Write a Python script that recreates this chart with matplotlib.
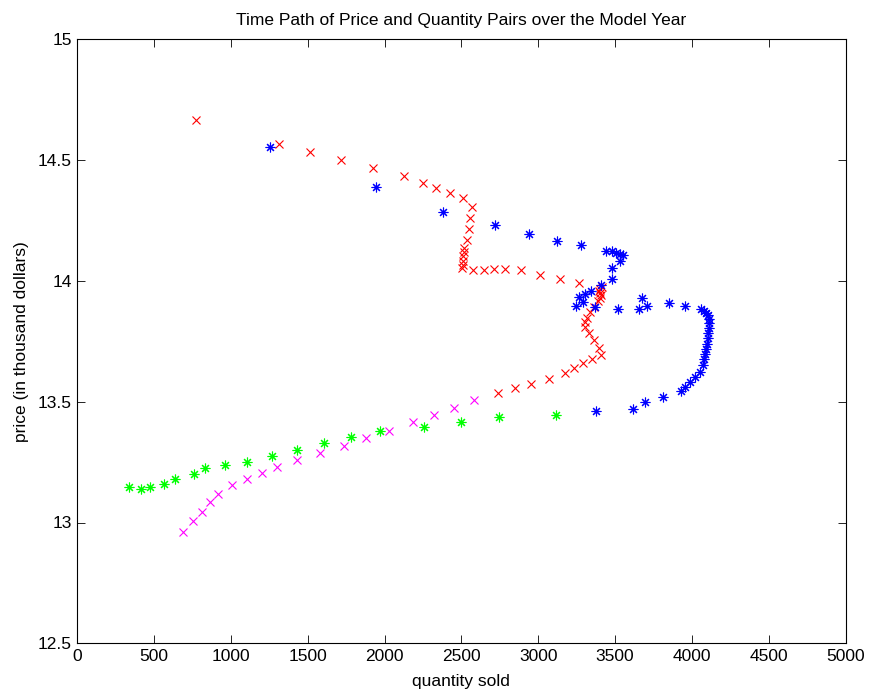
import matplotlib
matplotlib.use("Agg")
import matplotlib.pyplot as plt

plt.rcParams['font.family'] = ['Liberation Sans', 'DejaVu Sans']

# Red 'x' series
red_q = [771, 1311, 1515, 1719, 1925, 2127, 2253, 2337, 2426, 2513, 2570, 2559, 2548, 2537,
         2518, 2516, 2513, 2511, 2509, 2505, 2576, 2646, 2715, 2785, 2889, 3014, 3143, 3268,
         3415, 3405, 3395, 3400, 3410, 3405, 3390, 3364, 3338, 3316, 3303, 3305, 3333, 3364,
         3398, 3408, 3351, 3290, 3234, 3177, 3069, 2956, 2848, 2737]
red_p = [14.665, 14.565, 14.532, 14.499, 14.466, 14.434, 14.405, 14.385, 14.365, 14.345, 14.304,
         14.26, 14.214, 14.17, 14.136, 14.118, 14.101, 14.083, 14.067, 14.052, 14.045, 14.046,
         14.048, 14.049, 14.045, 14.025, 14.007, 13.99, 13.975, 13.965, 13.958, 13.948, 13.94,
         13.93, 13.915, 13.89, 13.87, 13.848, 13.828, 13.81, 13.783, 13.754, 13.724, 13.695,
         13.675, 13.659, 13.638, 13.62, 13.595, 13.574, 13.555, 13.535]

# Magenta 'x' series
mag_q = [2585, 2452, 2320, 2186, 2031, 1882, 1734, 1580, 1432, 1302, 1202, 1103, 1005, 916,
         862, 810, 755, 690]
mag_p = [13.506, 13.475, 13.444, 13.414, 13.378, 13.348, 13.318, 13.288, 13.259, 13.228,
         13.205, 13.181, 13.156, 13.12, 13.083, 13.044, 13.007, 12.961]

# Green '*' series
grn_q = [339, 415, 471, 566, 636, 758, 833, 962, 1105, 1268, 1430, 1606, 1784, 1971, 2259,
         2496, 2745, 3117]
grn_p = [13.149, 13.14, 13.149, 13.158, 13.18, 13.2, 13.224, 13.238, 13.252, 13.274, 13.30,
         13.329, 13.354, 13.38, 13.394, 13.414, 13.436, 13.443]

# Blue '*' series
blu_q = [1253, 1947, 2381, 2719, 2943, 3125, 3277, 3442, 3479, 3507, 3533, 3555, 3533, 3477,
         3477, 3408, 3346, 3305, 3264, 3247, 3294, 3370, 3518, 3657, 3676, 3711, 3848, 3958,
         4059, 4076, 4089, 4102, 4111, 4111, 4111, 4106, 4102, 4098, 4091, 4087, 4080, 4072,
         4054, 4022, 3989, 3956, 3930, 3811, 3698, 3616, 3379]
blu_p = [14.553, 14.388, 14.286, 14.233, 14.194, 14.167, 14.149, 14.125, 14.122, 14.117,
         14.113, 14.107, 14.083, 14.052, 14.007, 13.981, 13.959, 13.944, 13.932, 13.895,
         13.911, 13.89, 13.884, 13.883, 13.929, 13.898, 13.909, 13.898, 13.883, 13.875,
         13.866, 13.857, 13.841, 13.824, 13.805, 13.783, 13.762, 13.74, 13.718, 13.697,
         13.675, 13.652, 13.625, 13.603, 13.581, 13.56, 13.544, 13.519, 13.498, 13.47, 13.463]

title = "Time Path of Price and Quantity Pairs over the Model Year"
xlabel = "quantity sold"
ylabel = "price (in thousand dollars)"
xticks = [0, 500, 1000, 1500, 2000, 2500, 3000, 3500, 4000, 4500, 5000]
yticks = [12.5, 13, 13.5, 14, 14.5, 15]

fig = plt.figure(figsize=(8.7, 6.91), dpi=100)
ax = fig.add_axes([77.3 / 870, 1 - 643.3 / 691, (845.5 - 77.3) / 870, (643.3 - 39.3) / 691])

star = (8, 2, 0)
ax.plot(red_q, red_p, linestyle='none', marker='x', color=(1, 0, 0), markersize=6, markeredgewidth=0.8)
ax.plot(blu_q, blu_p, linestyle='none', marker=star, color=(0, 0, 1), markersize=7, markeredgewidth=0.8)
ax.plot(grn_q, grn_p, linestyle='none', marker=star, color=(0, 1, 0), markersize=7, markeredgewidth=0.8)
ax.plot(mag_q, mag_p, linestyle='none', marker='x', color=(1, 0, 1), markersize=6, markeredgewidth=0.8)

ax.set_xlim(0, 5000)
ax.set_ylim(12.5, 15)
ax.set_xticks(xticks)
ax.set_xticklabels([str(t) for t in xticks])
ax.set_yticks(yticks)
ax.set_yticklabels(['12.5', '13', '13.5', '14', '14.5', '15'])
ax.tick_params(direction='in', length=5.5, width=0.6, top=True, right=True, labelsize=12.5)
ax.tick_params(axis='x', pad=4)
ax.tick_params(axis='y', pad=4)
for s in ax.spines.values():
    s.set_linewidth(0.8)

ax.set_title(title, fontsize=12.5, pad=10)
ax.set_xlabel(xlabel, fontsize=12.5, labelpad=7)
ax.set_ylabel(ylabel, fontsize=12.5, labelpad=6)

fig.savefig("out.png", dpi=100)
